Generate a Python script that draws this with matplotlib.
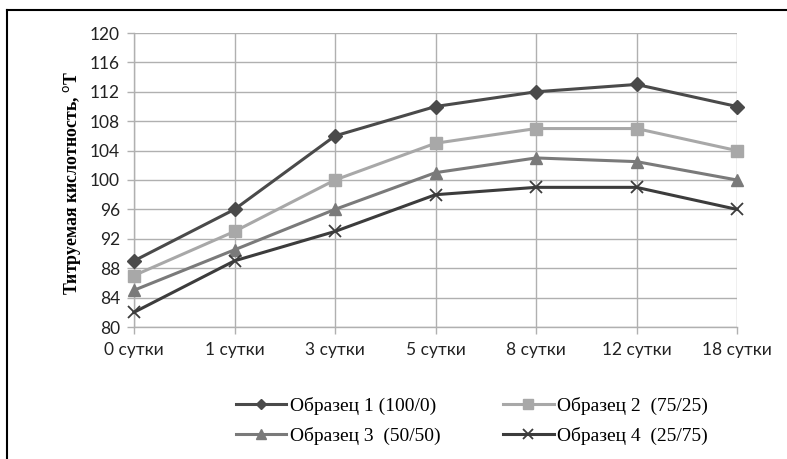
import matplotlib
matplotlib.use("Agg")
import matplotlib.pyplot as plt
from matplotlib.lines import Line2D

categories = ["0 сутки", "1 сутки", "3 сутки", "5 сутки", "8 сутки", "12 сутки", "18 сутки"]
s1 = [89, 96, 106, 110, 112, 113, 110]
s2 = [87, 93, 100, 105, 107, 107, 104]
s3 = [85, 90.5, 96, 101, 103, 102.5, 100]
s4 = [82, 89, 93, 98, 99, 99, 96]
names = ["Образец 1 (100/0)", "Образец 2  (75/25)", "Образец 3  (50/50)", "Образец 4  (25/75)"]
yticks = list(range(80, 121, 4))

W, H = 787, 459
fig = plt.figure(figsize=(W / 100, H / 100), dpi=100)
ax = fig.add_axes([134 / W, 1 - 327 / H, (737 - 134) / W, (327 - 33) / H])

x = list(range(len(categories)))
styles = [
    dict(color="#4a4a4a", marker="D", markersize=7),
    dict(color="#a8a8a8", marker="s", markersize=9),
    dict(color="#7a7a7a", marker="^", markersize=9),
    dict(color="#3c3c3c", marker="x", markersize=9, markeredgewidth=1.3),
]
series = [s1, s2, s3, s4]
handles = []
for vals, st, nm in zip(series, styles, names):
    (ln,) = ax.plot(x, vals, linewidth=2.2, label=nm, clip_on=False, zorder=3, **st)
    handles.append(ln)

ax.set_xlim(0, 6)
ax.set_ylim(80, 120)
ax.set_yticks(yticks)
ax.set_xticks(x)
ax.set_xticklabels(categories)
ax.grid(True, color="#b0b0b0", linewidth=1.0)
ax.set_axisbelow(True)
for sp in ["top", "right"]:
    ax.spines[sp].set_visible(False)
for sp in ["left", "bottom"]:
    ax.spines[sp].set_color("#b0b0b0")
    ax.spines[sp].set_linewidth(1.0)
ax.tick_params(axis="both", colors="#b0b0b0", length=5, width=1.0, labelcolor="#222222",
               labelsize=12.5)
for lab in ax.get_xticklabels() + ax.get_yticklabels():
    lab.set_family("Lato")
ax.tick_params(axis="y", pad=5)
ax.tick_params(axis="x", pad=6)

fig.text(72 / W, 1 - 183 / H, "Титруемая кислотность, $^{\\mathrm{o}}$Т", rotation=90,
         ha="center", va="center", fontsize=12.8, fontweight="bold", family="Liberation Serif")

order = [0, 2, 1, 3]
leg = fig.legend([handles[i] for i in order], [names[i] for i in order], loc="center",
                 bbox_to_anchor=(472 / W, 1 - 421 / H),
                 ncol=2, frameon=False, prop=dict(family="Liberation Serif", size=14),
                 handlelength=2.6, handletextpad=0.2, columnspacing=3.2, labelspacing=0.6,
                 markerscale=0.75)

# figure border (top and left)
fig.add_artist(Line2D([7 / W, 1], [1 - 10 / H, 1 - 10 / H], color="black", linewidth=1.5,
                      transform=fig.transFigure))
fig.add_artist(Line2D([7 / W, 7 / W], [1 - 10 / H, 0], color="black", linewidth=1.5,
                      transform=fig.transFigure))

fig.savefig("out.png", dpi=100)
